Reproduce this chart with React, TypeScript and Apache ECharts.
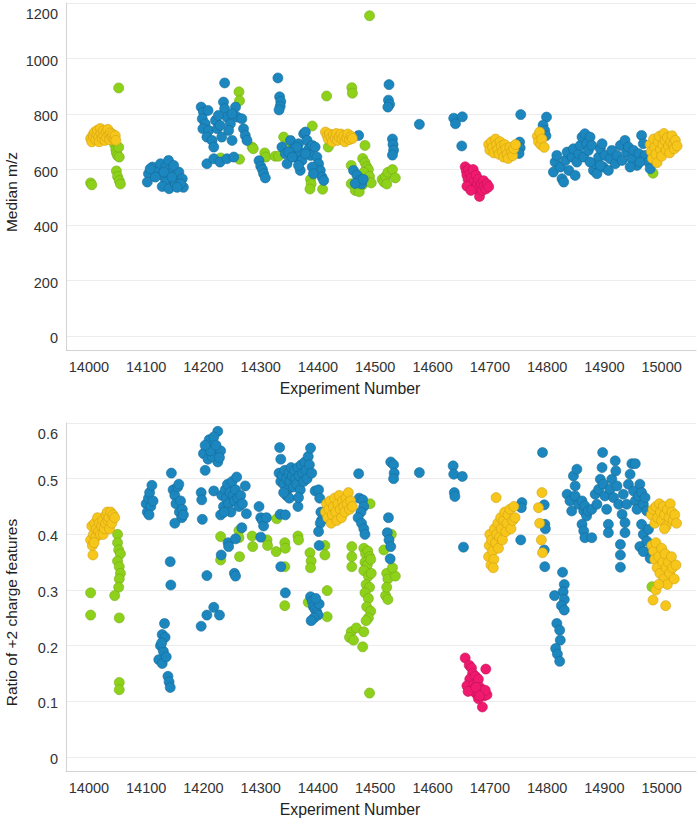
import React, { useEffect, useRef } from "react";
import * as echarts from "echarts";

// ---------------- Data: Median m/z (top panel) ----------------
const topGreen: number[][] = [
  [14003, 552], [14005, 545], [14052, 894], [14045, 690], [14047, 672], [14048, 660], [14050, 650], [14052, 680], [14053, 645],
  [14048, 595], [14050, 575], [14053, 560], [14055, 548],
  [14230, 642], [14262, 880], [14263, 848], [14263, 637], [14285, 681], [14287, 675], [14307, 660], [14309, 645], [14325, 648],
  [14331, 648], [14340, 717], [14342, 680], [14390, 757], [14387, 565], [14388, 548], [14386, 530], [14408, 529], [14415, 865], [14418, 681],
  [14458, 615], [14458, 549], [14465, 525], [14478, 640], [14482, 625], [14485, 610], [14488, 600], [14480, 590], [14490, 575],
  [14484, 560], [14478, 545], [14493, 552], [14470, 575], [14472, 520], [14459, 895], [14460, 875], [14482, 687], [14490, 1154],
  [14512, 565], [14515, 555], [14518, 575], [14522, 590], [14530, 600], [14535, 570], [14520, 548], [14985, 587],
];

const topBlue: number[][] = [
  [14104, 585], [14102, 555], [14111, 609], [14119, 591], [14125, 621], [14128, 579], [14134, 609], [14139, 633], [14142, 585],
  [14134, 555], [14128, 539], [14140, 531], [14148, 561], [14157, 591], [14163, 567], [14165, 536], [14151, 549], [14116, 573],
  [14107, 603], [14148, 615], [14131, 591], [14145, 573], [14160, 549], [14154, 536],
  [14196, 825], [14200, 807], [14208, 813], [14198, 783], [14203, 765], [14199, 747], [14209, 741], [14206, 717], [14215, 705],
  [14221, 777], [14224, 747], [14229, 759], [14235, 843], [14237, 819], [14241, 789], [14247, 765], [14244, 741], [14256, 825],
  [14259, 789], [14267, 783], [14250, 705], [14232, 717], [14270, 747], [14273, 723], [14276, 705], [14218, 681], [14237, 912],
  [14206, 621], [14218, 639], [14229, 627], [14241, 639], [14253, 645], [14226, 795], [14250, 801],
  [14297, 632], [14300, 612], [14303, 600], [14305, 585], [14308, 570],
  [14330, 930], [14333, 862], [14335, 845], [14334, 828], [14332, 815],
  [14337, 681], [14343, 657], [14346, 621], [14352, 705], [14357, 675], [14360, 645], [14366, 693], [14369, 663], [14372, 633],
  [14375, 729], [14378, 735], [14381, 705], [14384, 675], [14387, 651], [14390, 687], [14395, 681], [14398, 645], [14401, 621],
  [14404, 597], [14407, 573], [14410, 561], [14369, 597], [14366, 615], [14363, 681], [14349, 663], [14390, 609], [14392, 585],
  [14355, 645], [14378, 657],
  [14471, 723], [14462, 597], [14468, 580], [14472, 560], [14476, 548], [14465, 550], [14479, 565],
  [14524, 906], [14523, 850], [14525, 835], [14522, 825], [14530, 710], [14531, 690], [14532, 670], [14530, 652],
  [14577, 763], [14637, 785], [14640, 765], [14652, 790], [14651, 685],
  [14754, 798], [14752, 699], [14753, 678], [14751, 658], [14799, 789], [14793, 760], [14796, 740], [14798, 722],
  [14814, 627], [14811, 591], [14817, 651], [14823, 609], [14826, 567], [14832, 633], [14835, 663], [14838, 597], [14844, 645],
  [14846, 675], [14852, 627], [14855, 657], [14858, 687], [14861, 717], [14864, 645], [14866, 729], [14869, 693], [14872, 669],
  [14875, 717], [14878, 687], [14881, 597], [14884, 621], [14887, 585], [14890, 645], [14893, 675], [14896, 693], [14898, 609],
  [14901, 651], [14907, 597], [14910, 639], [14913, 669], [14919, 621], [14922, 651], [14928, 687], [14931, 633], [14936, 705],
  [14939, 663], [14942, 681], [14948, 639], [14951, 669], [14957, 615], [14960, 657], [14965, 723], [14968, 693], [14971, 651],
  [14977, 627], [14980, 603], [14962, 627], [14945, 609], [14893, 615], [14875, 627], [14849, 579], [14829, 555],
];

const topYellow: number[][] = [
  [14003, 712], [14005, 700], [14007, 725], [14008, 718], [14010, 735], [14012, 708], [14014, 728], [14015, 742], [14017, 715],
  [14018, 700], [14020, 748], [14021, 730], [14023, 712], [14025, 740], [14026, 722], [14028, 705], [14030, 735], [14031, 716],
  [14033, 745], [14035, 725], [14036, 708], [14038, 732], [14040, 718], [14042, 727], [14044, 710], [14046, 722], [14047, 705],
  [14413, 735], [14416, 722], [14418, 710], [14420, 728], [14423, 715], [14425, 700], [14427, 725], [14430, 712], [14432, 730],
  [14434, 705], [14437, 718], [14440, 728], [14442, 710], [14445, 722], [14447, 700], [14450, 715], [14452, 728], [14455, 708],
  [14458, 720], [14460, 712],
  [14698, 690], [14700, 670], [14703, 700], [14705, 680], [14707, 660], [14710, 710], [14712, 690], [14714, 672], [14716, 655],
  [14718, 700], [14720, 685], [14722, 665], [14724, 645], [14726, 690], [14728, 675], [14730, 655], [14732, 640], [14735, 680],
  [14738, 665], [14740, 650], [14742, 675], [14745, 690],
  [14783, 720], [14785, 700], [14787, 735], [14789, 690], [14791, 710], [14795, 680],
  [14980, 690], [14982, 665], [14984, 640], [14986, 710], [14988, 680], [14990, 655], [14992, 625], [14994, 700], [14996, 720],
  [14998, 672], [15000, 648], [15002, 690], [15004, 730], [15006, 705], [15008, 670], [15010, 715], [15012, 685], [15014, 660],
  [15016, 700], [15018, 722], [15020, 690], [15022, 675], [15024, 705], [15027, 685],
];

const topPink: number[][] = [
  [14657, 610], [14659, 595], [14660, 580], [14662, 565], [14663, 600], [14665, 550], [14666, 585], [14668, 570], [14670, 540],
  [14671, 600], [14673, 560], [14675, 530], [14676, 580], [14678, 548], [14680, 565], [14682, 503], [14683, 535], [14685, 550],
  [14687, 525], [14689, 560], [14690, 540], [14693, 530], [14695, 548], [14698, 538], [14660, 540], [14667, 525],
];

// ---------------- Data: Ratio of +2 charge features (bottom panel) ----------------
const bottomGreen: number[][] = [
  [14003, 0.295], [14003, 0.255], [14050, 0.4], [14050, 0.385], [14052, 0.372], [14055, 0.365], [14050, 0.352], [14053, 0.342],
  [14055, 0.33], [14053, 0.32], [14052, 0.305], [14045, 0.29], [14053, 0.25], [14053, 0.134], [14053, 0.121],
  [14230, 0.396], [14230, 0.354], [14262, 0.407], [14262, 0.394], [14263, 0.36], [14285, 0.397], [14286, 0.378], [14311, 0.39],
  [14312, 0.38], [14328, 0.428], [14327, 0.369], [14342, 0.385], [14343, 0.375], [14342, 0.342], [14342, 0.272], [14365, 0.397],
  [14366, 0.39], [14386, 0.367], [14388, 0.352], [14387, 0.34], [14383, 0.278], [14412, 0.38], [14412, 0.363], [14416, 0.299],
  [14416, 0.252],
  [14491, 0.455], [14459, 0.378], [14459, 0.36], [14459, 0.342],
  [14480, 0.375], [14483, 0.365], [14487, 0.37], [14490, 0.36], [14482, 0.35], [14486, 0.345], [14492, 0.355], [14480, 0.335],
  [14488, 0.325], [14493, 0.33], [14484, 0.31], [14490, 0.305], [14482, 0.295], [14488, 0.285], [14485, 0.27], [14492, 0.262],
  [14488, 0.25], [14484, 0.245],
  [14458, 0.225], [14455, 0.215], [14462, 0.21], [14467, 0.232], [14480, 0.225], [14478, 0.198], [14490, 0.115],
  [14515, 0.372], [14528, 0.4], [14520, 0.33], [14522, 0.32], [14535, 0.325], [14518, 0.29], [14522, 0.283], [14520, 0.305],
  [14530, 0.34], [14983, 0.306],
];

const bottomBlue: number[][] = [
  [14100, 0.455], [14102, 0.44], [14104, 0.465], [14106, 0.475], [14108, 0.45], [14110, 0.488], [14112, 0.46], [14105, 0.435],
  [14144, 0.51], [14147, 0.48], [14150, 0.47], [14152, 0.455], [14155, 0.485], [14158, 0.44], [14160, 0.46], [14162, 0.43],
  [14163, 0.445], [14150, 0.42], [14157, 0.49], [14165, 0.435], [14142, 0.351], [14143, 0.309],
  [14132, 0.24], [14128, 0.22], [14133, 0.215], [14125, 0.2], [14130, 0.19], [14122, 0.175], [14128, 0.168], [14135, 0.18],
  [14138, 0.145], [14140, 0.135], [14142, 0.125], [14127, 0.205],
  [14225, 0.585], [14210, 0.57], [14205, 0.555], [14215, 0.56], [14220, 0.545], [14200, 0.545], [14208, 0.535], [14225, 0.53],
  [14215, 0.54], [14230, 0.55], [14218, 0.575], [14212, 0.55], [14222, 0.56], [14228, 0.538], [14203, 0.56],
  [14196, 0.475], [14197, 0.462], [14203, 0.515], [14198, 0.427], [14218, 0.478],
  [14232, 0.47], [14235, 0.45], [14238, 0.48], [14240, 0.465], [14242, 0.49], [14244, 0.455], [14246, 0.475], [14248, 0.44],
  [14250, 0.495], [14252, 0.47], [14254, 0.46], [14256, 0.48], [14258, 0.503], [14260, 0.465], [14262, 0.45], [14265, 0.47],
  [14268, 0.455], [14273, 0.487], [14275, 0.437], [14230, 0.435], [14236, 0.44],
  [14206, 0.326], [14196, 0.235], [14206, 0.255], [14218, 0.269], [14228, 0.255],
  [14231, 0.363], [14243, 0.385], [14244, 0.378], [14256, 0.392], [14254, 0.33], [14256, 0.325], [14267, 0.412],
  [14297, 0.45], [14300, 0.43], [14303, 0.425], [14305, 0.415], [14300, 0.395], [14310, 0.43],
  [14333, 0.556], [14335, 0.535], [14335, 0.342], [14343, 0.295], [14334, 0.436],
  [14332, 0.51], [14335, 0.495], [14338, 0.505], [14340, 0.49], [14342, 0.515], [14345, 0.5], [14347, 0.48], [14349, 0.51],
  [14351, 0.495], [14353, 0.52], [14355, 0.505], [14357, 0.485], [14359, 0.515], [14361, 0.5], [14363, 0.49], [14365, 0.52],
  [14367, 0.505], [14369, 0.48], [14371, 0.525], [14373, 0.51], [14375, 0.495], [14377, 0.53], [14379, 0.515], [14381, 0.5],
  [14383, 0.54], [14385, 0.525], [14387, 0.555], [14389, 0.51], [14345, 0.47], [14350, 0.465], [14365, 0.45], [14366, 0.466],
  [14343, 0.435], [14340, 0.475],
  [14387, 0.288], [14390, 0.28], [14392, 0.27], [14395, 0.265], [14398, 0.26], [14400, 0.255], [14393, 0.25], [14388, 0.245],
  [14402, 0.275], [14396, 0.285],
  [14395, 0.478], [14401, 0.48], [14403, 0.465], [14405, 0.44], [14406, 0.425], [14404, 0.42], [14401, 0.405], [14402, 0.38],
  [14471, 0.509], [14472, 0.465], [14478, 0.462], [14480, 0.45], [14475, 0.44], [14470, 0.43], [14476, 0.42], [14480, 0.41],
  [14482, 0.4],
  [14523, 0.43], [14521, 0.403], [14524, 0.39], [14527, 0.378], [14526, 0.356], [14527, 0.53], [14532, 0.525], [14533, 0.51],
  [14532, 0.5],
  [14577, 0.511], [14636, 0.523], [14637, 0.508], [14652, 0.504], [14638, 0.475], [14639, 0.468], [14654, 0.377],
  [14756, 0.457], [14755, 0.448], [14754, 0.39], [14792, 0.547],
  [14795, 0.453], [14796, 0.418], [14797, 0.41], [14795, 0.372], [14796, 0.342],
  [14827, 0.332], [14830, 0.31], [14828, 0.297], [14813, 0.29], [14830, 0.283], [14825, 0.272], [14830, 0.264], [14817, 0.24],
  [14822, 0.228], [14823, 0.21], [14815, 0.195], [14818, 0.185], [14822, 0.172],
  [14835, 0.472], [14840, 0.46], [14843, 0.442], [14846, 0.505], [14849, 0.487], [14852, 0.517], [14849, 0.469], [14855, 0.454],
  [14861, 0.46], [14864, 0.442], [14866, 0.451], [14869, 0.433], [14861, 0.418], [14864, 0.406], [14866, 0.394], [14872, 0.442],
  [14878, 0.445], [14884, 0.472], [14887, 0.454], [14890, 0.481], [14893, 0.499], [14896, 0.52], [14897, 0.547], [14898, 0.49],
  [14901, 0.469], [14904, 0.445], [14907, 0.418], [14907, 0.403], [14910, 0.481], [14913, 0.499], [14916, 0.466], [14919, 0.532],
  [14920, 0.514], [14922, 0.487], [14925, 0.454], [14928, 0.382], [14928, 0.363], [14928, 0.341], [14931, 0.436], [14933, 0.472],
  [14936, 0.421], [14936, 0.403], [14939, 0.454], [14942, 0.49], [14945, 0.508], [14948, 0.527], [14954, 0.527], [14951, 0.478],
  [14954, 0.46], [14957, 0.445], [14960, 0.469], [14962, 0.49], [14965, 0.475], [14968, 0.454], [14971, 0.466], [14974, 0.442],
  [14965, 0.418], [14968, 0.4], [14962, 0.378], [14974, 0.388], [14977, 0.369], [14980, 0.357], [14968, 0.369], [14977, 0.409],
  [14878, 0.394],
];

const bottomYellow: number[][] = [
  [14003, 0.39], [14005, 0.415], [14007, 0.363], [14006, 0.38], [14008, 0.4], [14010, 0.42], [14012, 0.395], [14013, 0.41],
  [14015, 0.43], [14017, 0.405], [14018, 0.42], [14020, 0.4], [14022, 0.415], [14024, 0.425], [14025, 0.4], [14027, 0.41],
  [14029, 0.42], [14030, 0.435], [14032, 0.44], [14033, 0.425], [14035, 0.43], [14036, 0.41], [14038, 0.44], [14040, 0.42],
  [14042, 0.435], [14045, 0.43], [14009, 0.385],
  [14413, 0.44], [14415, 0.455], [14417, 0.43], [14419, 0.445], [14421, 0.46], [14423, 0.42], [14425, 0.435], [14427, 0.45],
  [14429, 0.465], [14431, 0.44], [14433, 0.425], [14435, 0.455], [14437, 0.47], [14439, 0.445], [14441, 0.43], [14443, 0.46],
  [14445, 0.45], [14447, 0.44], [14449, 0.465], [14451, 0.455], [14453, 0.475], [14455, 0.445], [14457, 0.46], [14460, 0.45],
  [14698, 0.36], [14699, 0.38], [14700, 0.4], [14702, 0.345], [14703, 0.39], [14705, 0.37], [14707, 0.355], [14708, 0.41],
  [14710, 0.385], [14711, 0.466], [14712, 0.4], [14714, 0.42], [14715, 0.375], [14717, 0.395], [14719, 0.43], [14720, 0.41],
  [14722, 0.39], [14724, 0.425], [14726, 0.44], [14728, 0.405], [14730, 0.42], [14732, 0.435], [14735, 0.445], [14737, 0.41],
  [14740, 0.425], [14742, 0.45], [14744, 0.43], [14706, 0.34],
  [14791, 0.475], [14785, 0.448], [14787, 0.42], [14790, 0.39], [14792, 0.367],
  [14982, 0.435], [14985, 0.445], [14988, 0.42], [14990, 0.45], [14993, 0.43], [14996, 0.455], [14998, 0.44], [15000, 0.425],
  [15003, 0.45], [15005, 0.435], [15008, 0.415], [15010, 0.445], [15013, 0.43], [15015, 0.455], [15018, 0.44], [15020, 0.425],
  [15023, 0.435], [15026, 0.42], [15005, 0.41],
  [14983, 0.38], [14986, 0.37], [14988, 0.355], [14990, 0.385], [14992, 0.34], [14995, 0.36], [14997, 0.33], [15000, 0.375],
  [15002, 0.35], [15004, 0.32], [15006, 0.365], [15008, 0.34], [15010, 0.31], [15012, 0.35], [15014, 0.33], [15017, 0.36],
  [15019, 0.34], [15022, 0.32], [15025, 0.345], [14990, 0.3], [14995, 0.31], [14985, 0.282], [15007, 0.272],
];

const bottomPink: number[][] = [
  [14657, 0.178], [14664, 0.165], [14668, 0.16], [14670, 0.15], [14665, 0.14], [14660, 0.128], [14672, 0.13], [14675, 0.145],
  [14678, 0.135], [14680, 0.14], [14683, 0.125], [14685, 0.12], [14688, 0.115], [14690, 0.11], [14693, 0.158], [14687, 0.09],
  [14675, 0.115], [14680, 0.105], [14695, 0.112], [14670, 0.12], [14662, 0.118], [14676, 0.125], [14692, 0.12], [14682, 0.11],
];

// ---------------- Axis definitions ----------------
const xTitle = "Experiment Number";
const topYTitle = "Median m/z";
const bottomYTitle = "Ratio of +2 charge features";
const xLabelStep = 100;
const topYLabelStep = 200;
const topYMaxLabel = 1200;
const bottomYLabelStep = 0.1;
const bottomYMaxLabel = 0.6;

const FONT = '"Liberation Sans", Arial, Helvetica, sans-serif';
const COLORS = {
  green: { fill: "#8ed11b", border: "#74ab14" },
  blue: { fill: "#1c87be", border: "#156a98" },
  yellow: { fill: "#f7c61b", border: "#cfa114" },
  pink: { fill: "#ef1a6e", border: "#c21259" },
};
const TRANSPARENT = "rgba(0,0,0,0)";
const GRID_COLOR = "#ececec";
const AXIS_COLOR = "#d3d3d3";
const LABEL_COLOR = "#333333";

function makeXAxis(gridIndex: number) {
  return {
    gridIndex,
    type: "value",
    min: 13960,
    max: 15060,
    interval: 20,
    name: xTitle,
    nameLocation: "middle",
    nameGap: 30,
    nameMoveOverlap: false,
    nameTextStyle: { fontSize: 15.8, color: "#222", fontFamily: FONT, padding: [0, 62, 0, 0] },
    axisLine: { show: true, onZero: false, lineStyle: { color: AXIS_COLOR, width: 1 } },
    axisTick: { show: false },
    splitLine: { show: false },
    axisLabel: {
      margin: 9,
      fontSize: 14.5,
      color: LABEL_COLOR,
      fontFamily: FONT,
      formatter: (v: number) => (Math.round(v) % xLabelStep === 0 ? String(Math.round(v)) : ""),
    },
  };
}

function makeYAxis(gridIndex: number, min: number, max: number, interval: number, step: number, maxLabel: number, name: string, decimals: number) {
  const isLabel = (v: number) => Math.abs(v / step - Math.round(v / step)) < 1e-6 && v > -1e-9;
  return {
    gridIndex,
    type: "value",
    min,
    max,
    interval,
    name,
    nameLocation: "middle",
    nameGap: 47,
    nameMoveOverlap: false,
    nameTextStyle: { fontSize: 15.5, color: "#222", fontFamily: FONT, padding: [0, 31, 0, 0] },
    axisLine: { show: true, onZero: false, lineStyle: { color: AXIS_COLOR, width: 1 } },
    axisTick: { show: false },
    splitLine: { show: true, lineStyle: { color: [TRANSPARENT, GRID_COLOR, TRANSPARENT, TRANSPARENT], width: 1 } },
    axisLabel: {
      margin: 8,
      fontSize: 14.5,
      color: LABEL_COLOR,
      fontFamily: FONT,
      formatter: (v: number) => {
        if (!isLabel(v)) return "";
        const k = Math.round(v / step);
        const txt = decimals > 0 ? (k === 0 ? "0" : (k * step).toFixed(decimals)) : String(Math.round(v));
        return Math.abs(v - maxLabel) < 1e-9 ? "{top|" + txt + "}" : "{n|" + txt + "}";
      },
      rich: {
        top: { padding: [21, 0, 0, 0], fontSize: 14.5, color: LABEL_COLOR, fontFamily: FONT },
        n: { padding: [4, 0, 0, 0], fontSize: 14.5, color: LABEL_COLOR, fontFamily: FONT },
      },
    },
  };
}

function scatter(name: string, data: number[][], idx: number, c: { fill: string; border: string }) {
  return {
    name,
    type: "scatter",
    xAxisIndex: idx,
    yAxisIndex: idx,
    data,
    symbol: "circle",
    symbolSize: 10,
    itemStyle: { color: c.fill, borderColor: c.border, borderWidth: 0.6, opacity: 1 },
    emphasis: { disabled: true },
  };
}

export default function App() {
  const ref = useRef<HTMLDivElement>(null);
  useEffect(() => {
    if (!ref.current) return;
    const chart = echarts.init(ref.current, null, { renderer: "svg" });
    chart.setOption({
      animation: false,
      backgroundColor: "#ffffff",
      textStyle: { fontFamily: FONT },
      grid: [
        { left: 66, top: 3, width: 630, height: 347, containLabel: false, outerBoundsMode: "none" },
        { left: 66, top: 423, width: 630, height: 348, containLabel: false, outerBoundsMode: "none" },
      ],
      xAxis: [makeXAxis(0), makeXAxis(1)],
      yAxis: [
        makeYAxis(0, -50, 1200, 50, topYLabelStep, topYMaxLabel, topYTitle, 0),
        makeYAxis(1, -0.025, 0.6, 0.025, bottomYLabelStep, bottomYMaxLabel, bottomYTitle, 1),
      ],
      series: [
        scatter("Group C (m/z)", topGreen, 0, COLORS.green),
        scatter("Group A (m/z)", topBlue, 0, COLORS.blue),
        scatter("Group B (m/z)", topYellow, 0, COLORS.yellow),
        scatter("Group D (m/z)", topPink, 0, COLORS.pink),
        scatter("Group C (ratio)", bottomGreen, 1, COLORS.green),
        scatter("Group A (ratio)", bottomBlue, 1, COLORS.blue),
        scatter("Group B (ratio)", bottomYellow, 1, COLORS.yellow),
        scatter("Group D (ratio)", bottomPink, 1, COLORS.pink),
      ],
    });
    return () => chart.dispose();
  }, []);
  return (
    <div
      ref={ref}
      style={{ position: "fixed", left: 0, top: 0, width: 700, height: 818, background: "#fff" }}
    />
  );
}
